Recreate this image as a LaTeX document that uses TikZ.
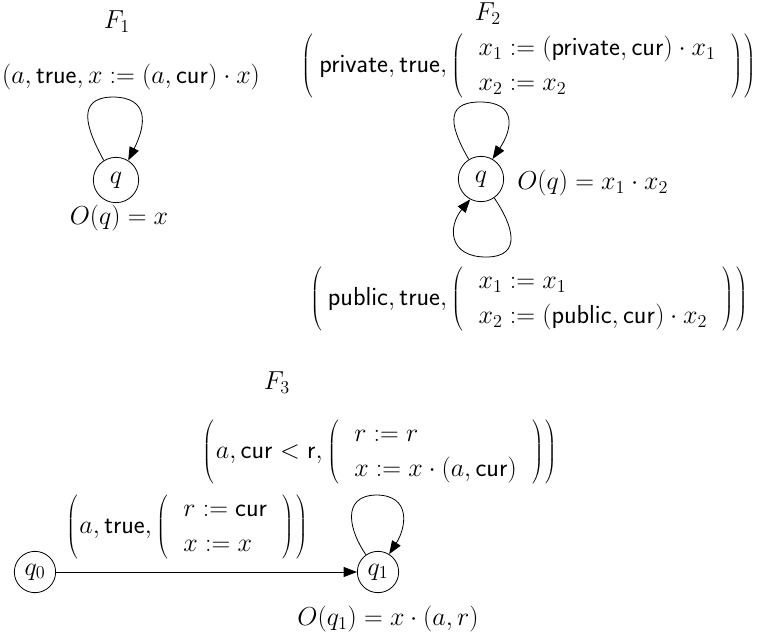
\RequirePackage{fix-cm}
\documentclass[tikz,border=0pt]{standalone}
\usetikzlibrary{arrows.meta}
\newcommand{\BL}{\mathopen{\left(\vcenter{\hbox{\rule{0pt}{51pt}}}\right.}}
\newcommand{\BR}{\mathclose{\left.\vcenter{\hbox{\rule{0pt}{51pt}}}\right)}}
\begin{document}
\begin{tikzpicture}[x=0.75pt,y=-0.75pt,
  lbl/.style={inner sep=0pt, font=\fontsize{19.5}{24}\selectfont},
  state/.style={circle, draw, line width=0.6pt, minimum size=34pt, inner sep=0pt, font=\fontsize{19.5}{24}\selectfont},
  edge/.style={line width=0.6pt, -{Triangle[length=10pt,width=7.5pt]}}]
\useasboundingbox (0,0) rectangle (764,636);
\def\arraystretch{1.1}
% F1
\node[lbl] (t1) at (117,22) {$F_1$};
\node[lbl] (l1) at (131,77) {$(a,\mathsf{true},x:=(a,\mathsf{cur})\cdot x)$};
\node[state] (q) at (116,180) {$q$};
\node[lbl] (o1) at (119,218) {$O(q)=x$};
\draw[edge] (q.122) .. controls (86,128) and (76,98) .. (112,97) .. controls (150,97) and (146,125) .. (q.58);
% F2
\node[lbl] (t2) at (488,14) {$F_2$};
\node[lbl] (l2a) at (529,66) {$\BL\,\mathsf{private},\mathsf{true},\BL\;\begin{array}{l}x_1:=(\mathsf{private},\mathsf{cur})\cdot x_1\\ x_2:=x_2\end{array}\;\BR\BR$};
\node[state] (p) at (481,179) {$q$};
\node[lbl,anchor=west] (o2) at (517,183) {$O(q)=x_1\cdot x_2$};
\draw[edge] (p.122) .. controls (452,130) and (442,102) .. (480,102) .. controls (518,102) and (512,130) .. (p.60);
\draw[edge] (p.-55) .. controls (512,224) and (524,257) .. (486,257) .. controls (448,257) and (448,226) .. (p.-118);
\node[lbl] (l2b) at (529,299) {$\BL\,\mathsf{public},\mathsf{true},\BL\;\begin{array}{l}x_1:=x_1\\ x_2:=(\mathsf{public},\mathsf{cur})\cdot x_2\end{array}\;\BR\BR$};
% F3
\node[lbl] (t3) at (277,383) {$F_3$};
\node[lbl] (l3a) at (380,452) {$\BL a,\mathsf{cur}<\mathsf{r},\BL\;\begin{array}{l}r:=r\\ x:=x\cdot(a,\mathsf{cur})\end{array}\;\BR\BR$};
\node[lbl] (l3b) at (187,527) {$\BL a,\mathsf{true},\BL\;\begin{array}{l}r:=\mathsf{cur}\\ x:=x\end{array}\;\BR\BR$};
\node[state,minimum size=31pt] (q0) at (35,572) {$q_0$};
\node[state,minimum size=31pt] (q1) at (378,572) {$q_1$};
\node[lbl] (o3) at (388,619) {$O(q_1)=x\cdot(a,r)$};
\draw[edge] (q0) -- (q1);
\draw[edge] (q1.125) .. controls (350,532) and (340,496) .. (376,495) .. controls (412,495) and (406,528) .. (q1.58);
\end{tikzpicture}
\end{document}
